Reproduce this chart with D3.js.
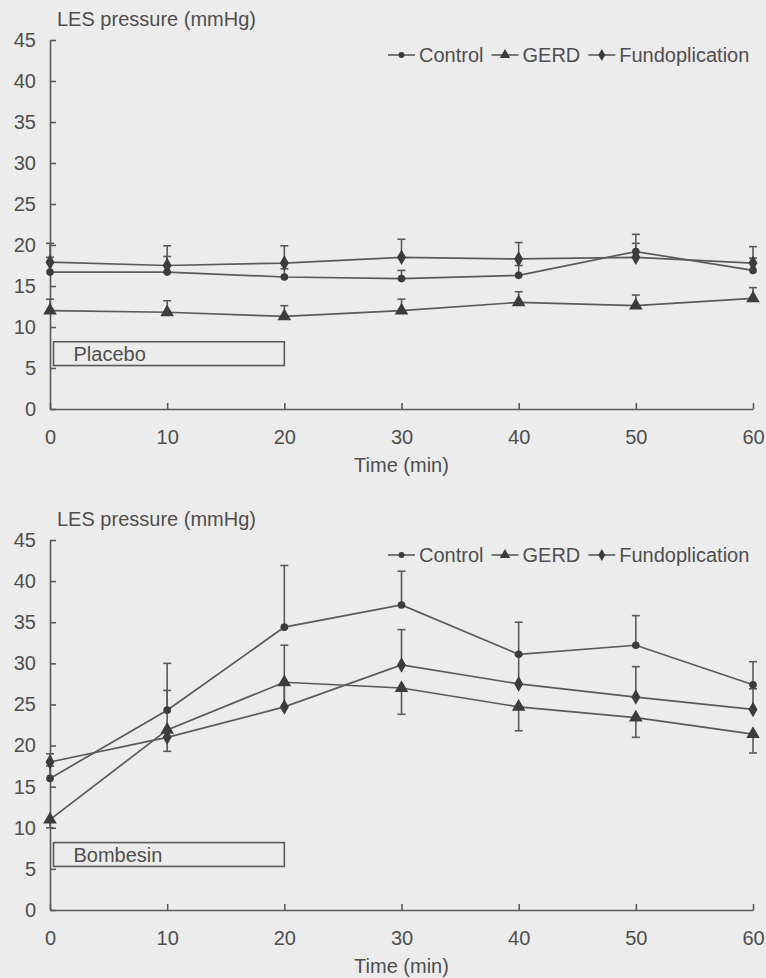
<!DOCTYPE html>
<html>
<head>
<meta charset="utf-8">
<script src="https://cdn.jsdelivr.net/npm/d3@7"></script>
<style>
  body { margin: 0; background: #ececec; }
  svg { display: block; }
  text { font-family: "Liberation Sans", Arial, sans-serif; fill: #4f4f4f; }
</style>
</head>
<body>
<script>
var width = 766,
    height = 978;

// data (mmHg, mean with one-sided SEM bars)
var times = [0, 10, 20, 30, 40, 50, 60];
var xTicks = [0, 10, 20, 30, 40, 50, 60];
var yTicks = [0, 5, 10, 15, 20, 25, 30, 35, 40, 45];
var seriesNames = ["Control", "GERD", "Fundoplication"];

var placeboControl = [16.7, 16.7, 16.1, 15.9, 16.3, 19.2, 16.9];
var placeboGerd    = [12.0, 11.8, 11.3, 12.0, 13.0, 12.6, 13.5];
var placeboFundo   = [17.9, 17.5, 17.8, 18.5, 18.3, 18.5, 17.8];
// signed error: + drawn upward, - drawn downward
var placeboControlErr = [1.8, 1.9, 1.0, 1.0, 1.2, 2.1, 1.5];
var placeboGerdErr    = [1.4, 1.4, 1.3, 1.4, 1.3, 1.3, 1.3];
var placeboFundoErr   = [2.3, 2.4, 2.1, 2.2, 2.0, 1.7, 2.0];

var bombControl = [16.0, 24.3, 34.4, 37.1, 31.1, 32.2, 27.4];
var bombGerd    = [11.0, 21.9, 27.7, 27.0, 24.7, 23.4, 21.4];
var bombFundo   = [18.0, 21.0, 24.7, 29.8, 27.5, 25.9, 24.4];
var bombControlErr = [1.5, 5.7, 7.5, 4.1, 3.9, 3.6, 2.8];
var bombGerdErr    = [-1.0, -2.6, -3.0, -3.2, -2.9, -2.4, -2.3];
var bombFundoErr   = [1.0, 5.7, 7.5, 4.3, 3.5, 3.7, 2.5];

// infusion boxes: [start, end] in min, [low, high] in mmHg
var infusionTime = [0.3, 20];
var infusionRange = [5.3, 8.2];

var ink = "#5a5a5a";

var svg = d3.select('body')
    .append('svg')
    .attr('width', width)
    .attr('height', height);

var symbols = [d3.symbolCircle, d3.symbolTriangle, d3.symbolDiamond];
var symSizes = [46, 80, 70];

function drawPanel(top, bottom, label, vals, errs) {
    var g = svg.append('g');

    var x = d3.scaleLinear().domain([0, 60]).range([50, 753]);
    var y = d3.scaleLinear().domain([0, 45]).range([bottom, top]);

    // axes
    var yAxis = d3.axisLeft(y)
        .tickValues(yTicks)
        .tickSizeInner(-6)
        .tickSizeOuter(0)
        .tickPadding(14);
    var xAxis = d3.axisBottom(x)
        .tickValues(xTicks)
        .tickSizeInner(-6)
        .tickSizeOuter(0)
        .tickPadding(21);

    var ya = g.append('g').attr('transform', 'translate(' + x(0) + ',0)').call(yAxis);
    var xa = g.append('g').attr('transform', 'translate(0,' + y(0) + ')').call(xAxis);
    [ya, xa].forEach(function(a) {
        a.selectAll('path,line').attr('stroke', ink).attr('stroke-width', 1.6);
        a.selectAll('text').attr('font-size', 20).attr('fill', '#4f4f4f')
            .style('font-family', '"Liberation Sans", Arial, sans-serif');
    });

    g.append('text')
        .attr('x', 57)
        .attr('y', top - 14)
        .attr('font-size', 20)
        .text('LES pressure (mmHg)');

    g.append('text')
        .attr('x', x(30))
        .attr('y', bottom + 63)
        .attr('text-anchor', 'middle')
        .attr('font-size', 20)
        .text('Time (min)');

    // infusion box
    g.append('rect')
        .attr('x', x(infusionTime[0]))
        .attr('y', y(infusionRange[1]))
        .attr('width', x(infusionTime[1]) - x(infusionTime[0]))
        .attr('height', y(infusionRange[0]) - y(infusionRange[1]))
        .attr('fill', 'none')
        .attr('stroke', ink)
        .attr('stroke-width', 1.6);
    g.append('text')
        .attr('x', x(infusionTime[0]) + 20)
        .attr('y', (y(infusionRange[0]) + y(infusionRange[1])) / 2 + 7)
        .attr('font-size', 20)
        .text(label);

    // error bars
    vals.forEach(function(v, s) {
        var eg = g.append('g');
        times.forEach(function(t, i) {
            var end = v[i] + errs[s][i];
            eg.append('line')
                .attr('x1', x(t)).attr('x2', x(t))
                .attr('y1', y(v[i])).attr('y2', y(end))
                .attr('stroke', ink).attr('stroke-width', 1.6);
            eg.append('line')
                .attr('x1', x(t) - 4).attr('x2', x(t) + 4)
                .attr('y1', y(end)).attr('y2', y(end))
                .attr('stroke', ink).attr('stroke-width', 1.6);
        });
    });

    // lines and markers
    var line = d3.line()
        .x(function(d, i) { return x(times[i]); })
        .y(function(d) { return y(d); });

    vals.forEach(function(v, s) {
        g.append('path')
            .datum(v)
            .attr('fill', 'none')
            .attr('stroke', ink)
            .attr('stroke-width', 1.7)
            .attr('d', line);
        g.selectAll('.m' + s)
            .data(v)
            .enter()
            .append('path')
            .attr('class', 'm' + s)
            .attr('transform', function(d, i) { return 'translate(' + x(times[i]) + ',' + y(d) + ')'; })
            .attr('d', d3.symbol().type(symbols[s]).size(symSizes[s]))
            .attr('fill', '#3c3c3c');
    });

    // legend
    var lx = 388, ly = top + 15;
    seriesNames.forEach(function(name, s) {
        g.append('line')
            .attr('x1', lx).attr('x2', lx + 27)
            .attr('y1', ly).attr('y2', ly)
            .attr('stroke', ink).attr('stroke-width', 1.6);
        g.append('path')
            .attr('transform', 'translate(' + (lx + 13.5) + ',' + ly + ')')
            .attr('d', d3.symbol().type(symbols[s]).size(symSizes[s] * 0.6))
            .attr('fill', '#3c3c3c');
        var t = g.append('text')
            .attr('x', lx + 31)
            .attr('y', ly + 7)
            .attr('font-size', 20)
            .text(name);
        lx = lx + 31 + t.node().getComputedTextLength() + 8;
    });
}

drawPanel(40, 409, 'Placebo',
    [placeboControl, placeboGerd, placeboFundo],
    [placeboControlErr, placeboGerdErr, placeboFundoErr]);

drawPanel(540, 910, 'Bombesin',
    [bombControl, bombGerd, bombFundo],
    [bombControlErr, bombGerdErr, bombFundoErr]);
</script>
</body>
</html>
